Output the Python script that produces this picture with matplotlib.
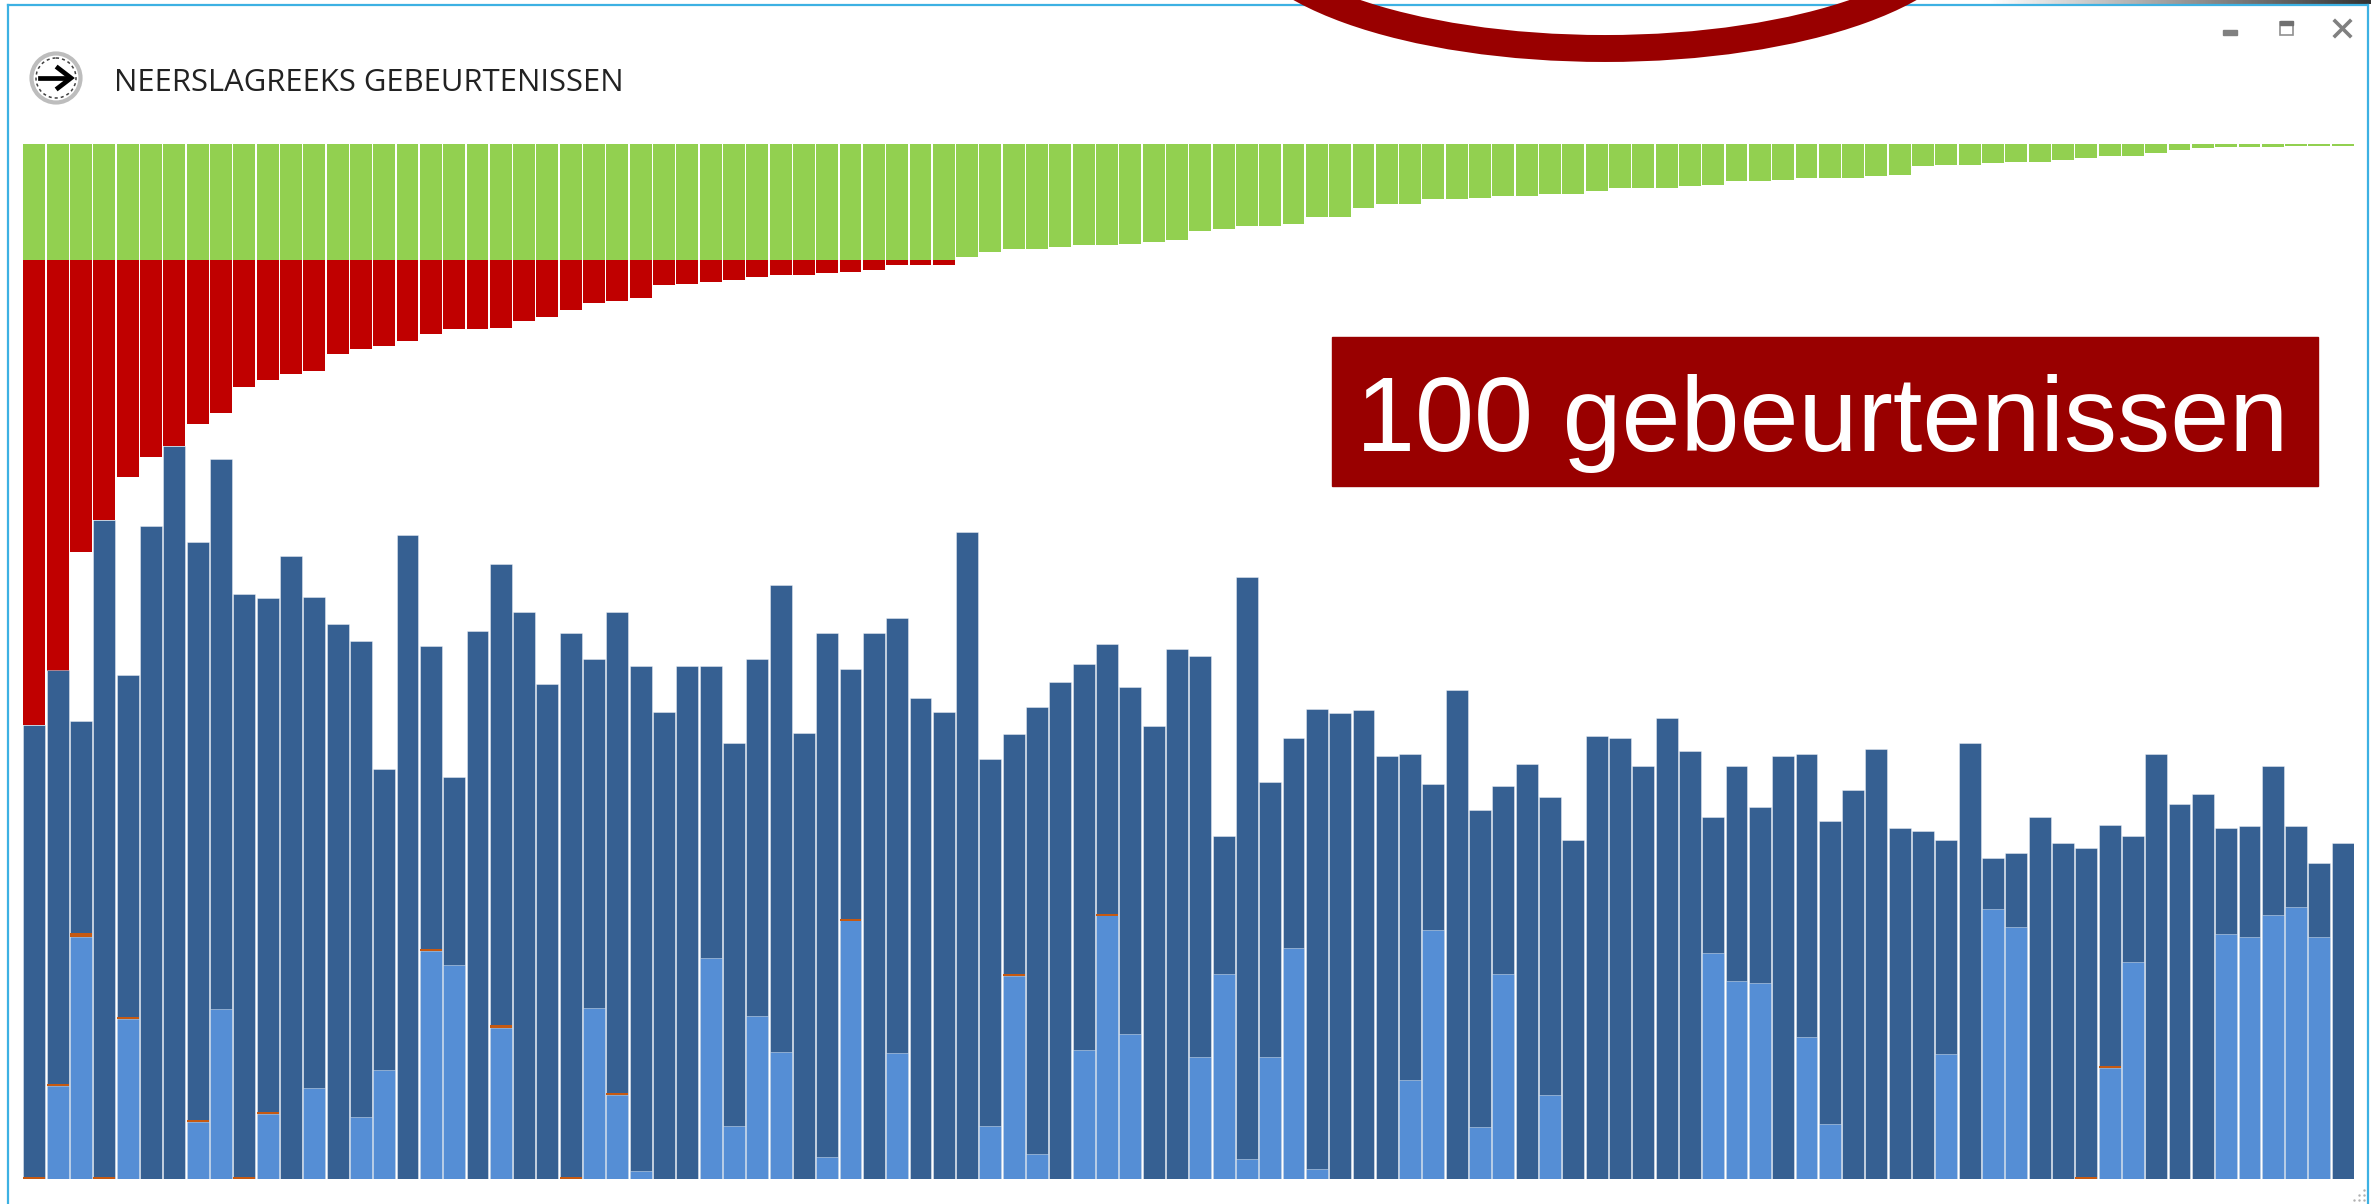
import numpy as np
import matplotlib
matplotlib.use("Agg")
import matplotlib.pyplot as plt
from matplotlib.patches import Circle, Ellipse, Rectangle

TITLE = "NEERSLAGREEKS GEBEURTENISSEN"
BANNER = "100 gebeurtenissen"

# values, in pixels of the full-size reference
green = [
    116.7, 116.7, 116.7, 116.7, 116.7, 116.7, 116.7, 116.7, 116.7, 116.7,
    116.7, 116.7, 116.7, 116.7, 116.7, 116.7, 116.7, 116.7, 116.7, 116.7,
    116.7, 116.7, 116.7, 116.7, 116.7, 116.7, 116.7, 116.7, 116.7, 116.7,
    116.7, 116.7, 116.7, 116.7, 116.7, 116.7, 116.7, 116.7, 116.7, 116.7,
    113.3, 108.3, 105.3, 105.3, 103.3, 101.8, 101.8, 100.3, 98.4, 96.8,
    87.3, 85.4, 82.3, 82.3, 80.4, 73.9, 73.9, 64.3, 60.9, 60.9,
    55.9, 55.9, 54.4, 52.8, 52.8, 50.9, 50.9, 47.5, 44.0, 44.0,
    44.0, 42.5, 41.0, 37.5, 37.5, 36.0, 34.5, 34.5, 34.5, 32.9,
    31.0, 22.5, 21.1, 21.1, 19.5, 18.0, 18.0, 16.1, 14.5, 12.6,
    12.6, 9.5, 6.5, 4.6, 3.1, 3.1, 3.1, 2.3, 2.3, 2.3,
]
red = [
    464.8, 410.3, 291.8, 259.5, 216.6, 197.1, 185.6, 164.2, 152.7, 126.3,
    119.8, 113.3, 110.3, 93.4, 88.4, 85.4, 80.4, 73.8, 68.8, 68.8,
    67.4, 60.5, 57.1, 49.4, 42.5, 41.0, 37.5, 24.5, 23.4, 21.5,
    19.6, 16.5, 14.6, 14.6, 13.0, 11.5, 10.0, 5.0, 5.0, 5.0,
]
dark = [
    453.6, 508.1, 457.3, 658.9, 503.1, 652.4, 732.8, 636.3, 719.8, 585.0,
    580.6, 622.9, 582.0, 554.3, 537.8, 409.1, 644.0, 532.8, 401.4, 547.4,
    614.9, 567.0, 495.0, 545.9, 519.3, 567.0, 512.7, 466.9, 512.7, 512.7,
    435.7, 519.3, 593.4, 445.3, 545.9, 509.6, 545.9, 560.5, 480.4, 466.9,
    646.3, 419.1, 444.2, 471.9, 496.6, 514.3, 534.3, 491.6, 452.3, 529.3,
    522.7, 342.1, 601.9, 396.4, 440.7, 470.0, 465.3, 468.4, 422.6, 424.1,
    394.9, 488.1, 368.3, 392.9, 414.1, 381.4, 339.0, 442.2, 440.7, 413.0,
    460.3, 427.6, 361.7, 413.0, 371.7, 422.6, 424.1, 357.1, 388.3, 429.1,
    350.2, 347.1, 339.0, 435.7, 320.9, 325.9, 361.7, 335.6, 330.6, 353.6,
    342.1, 424.1, 374.8, 384.8, 350.2, 352.1, 413.0, 352.1, 315.9, 335.6,
]
light = [
    0, 92.4, 241.5, 0, 159.9, 0, 0, 56.2, 169.5, 0,
    64.3, 0, 90.5, 0, 61.2, 109.0, 0, 227.3, 213.8, 0,
    151.0, 0, 0, 0, 171.0, 84.0, 7.3, 0, 0, 220.3,
    52.8, 162.9, 126.7, 0, 22.0, 258.1, 0, 125.2, 0, 0,
    0, 52.8, 202.2, 25.0, 0, 128.7, 263.1, 144.8, 0, 0,
    121.7, 204.2, 20.0, 121.7, 230.4, 10.0, 0, 0, 0, 99.0,
    248.1, 0, 51.2, 204.2, 0, 84.0, 0, 0, 0, 0,
    0, 0, 225.3, 197.2, 195.7, 0, 141.8, 54.7, 0, 0,
    0, 0, 124.8, 0, 269.6, 251.5, 0, 0, 0, 110.2,
    216.9, 0, 0, 0, 245.0, 241.5, 263.1, 271.2, 241.5, 0,
]
orange = [
    2, 2, 4, 2, 2, 0, 0, 2, 0, 2,
    2, 0, 0, 0, 0, 0, 0, 2, 0, 0,
    2.5, 0, 0, 2, 0, 2, 0, 0, 0, 0,
    0, 0, 0, 0, 0, 2, 0, 0, 0, 0,
    0, 0, 2, 0, 0, 0, 1.5, 0, 0, 0,
    0, 0, 0, 0, 0, 0, 0, 0, 0, 0,
    0, 0, 0, 0, 0, 0, 0, 0, 0, 0,
    0, 0, 0, 0, 0, 0, 0, 0, 0, 0,
    0, 0, 0, 0, 0, 0, 0, 0, 2, 2,
    0, 0, 0, 0, 0, 0, 0, 0, 0, 0,
]

W, H = 2371, 1204
X0, X1 = 22.8, 2354.4
Y0, Y1 = 143.5, 1178.6
BAR_WIDTH = 0.94
EDGE = (1., 1., 1., 0.55)


def pixel_axes(fig, x0, y0, x1, y1, zorder):
    """axes placed by reference pixels (y counted from the top)"""
    ax = fig.add_axes(
        [x0 / W, 1. - y1 / H, (x1 - x0) / W, (y1 - y0) / H], zorder=zorder
    )
    ax.axis("off")
    return ax


fig = plt.figure(figsize=(W / 100., H / 100.), dpi=100, facecolor="white")

# top chart hangs down from the top line
idx = np.arange(len(dark))
ax_top = pixel_axes(fig, X0, Y0, X1, Y1, 1)
ax_top.bar(idx, green, width=BAR_WIDTH, color="#92D050")
ax_top.bar(
    idx[:len(red)], red, width=BAR_WIDTH, bottom=green[:len(red)],
    color="#C00000"
)
ax_top.set_xlim(-0.5, len(dark) - 0.5)
ax_top.set_ylim(Y1 - Y0, 0.)

# bottom chart stands on the base line
ax_bot = pixel_axes(fig, X0, Y0, X1, Y1, 2)
ax_bot.bar(
    idx, dark, width=BAR_WIDTH, color="#366092", edgecolor=EDGE, linewidth=0.5
)
ax_bot.bar(
    idx, light, width=BAR_WIDTH, color="#558ED5", edgecolor=EDGE, linewidth=0.5
)
ax_bot.bar(idx, orange, width=BAR_WIDTH, bottom=light, color="#C65911")
ax_bot.set_xlim(-0.5, len(dark) - 0.5)
ax_bot.set_ylim(0., Y1 - Y0)

# everything around the chart, in pixels
ax = pixel_axes(fig, 0, 0, W, H, 3)
ax.set_xlim(0, W)
ax.set_ylim(H, 0)

# window frame
ax.imshow(
    np.linspace(1., 0.2, 256)[None, :], extent=(1989, W, 4, 0), cmap="gray",
    vmin=0., vmax=1., aspect="auto", zorder=1
)
ax.set_xlim(0, W)
ax.set_ylim(H, 0)
ax.plot([8, 2368], [5, 5], color="#3DB1E3", lw=1.6, zorder=2)
ax.plot([8, 8], [5, H], color="#3DB1E3", lw=1.6, zorder=2)
ax.plot([2368, 2368], [5, H], color="#3DB1E3", lw=1.6, zorder=2)

# resize grip
ax.scatter(
    [2364, 2359, 2364, 2354, 2359, 2364], [1190, 1195, 1195, 1200, 1200, 1200],
    s=3, color="#B0B0B0", linewidths=0, zorder=2
)

# red ellipse cut off by the top of the slide
ax.add_patch(Ellipse(
    (1605, -82), 724, 261, fill=False, edgecolor="#990000", lw=19.4, zorder=3
))

# window buttons
ax.add_patch(Rectangle((2222.5, 30), 14.5, 5, color="#808080", zorder=2))
ax.add_patch(Rectangle(
    (2279.5, 21.5), 13.5, 13.5, fill=False, edgecolor="#909090", lw=1.2, zorder=2
))
ax.add_patch(Rectangle((2279.5, 21), 13.5, 4, color="#707070", zorder=2))
ax.plot([2335, 2350], [21, 36], color="#808080", lw=2.6, zorder=2)
ax.plot([2335, 2350], [36, 21], color="#808080", lw=2.6, zorder=2)

# title icon
ax.add_patch(Circle(
    (56, 78), 24.5, facecolor="white", edgecolor="#BDBDBD", lw=3, zorder=2
))
ax.add_patch(Circle(
    (56, 78), 20, fill=False, edgecolor="#404040", lw=1.1, ls=(0, (2, 2)),
    zorder=2
))
ax.plot([40, 66], [78, 78], color="black", lw=3.4, zorder=3)
ax.plot(
    [58, 71, 58], [68, 78, 88], color="black", lw=3.4, zorder=3,
    solid_joinstyle="miter"
)
ax.text(
    114, 91, TITLE, fontsize=22.3, family="Open Sans", color="#222222",
    ha="left", va="baseline"
)

# banner
ax.add_patch(Rectangle((1332, 337), 986, 149, color="#990000", zorder=2))
ax.text(
    1822, 451, BANNER, fontsize=76.4, family="Liberation Sans", color="white",
    ha="center", va="baseline", zorder=4
)

fig.savefig("out.png", dpi=100)
